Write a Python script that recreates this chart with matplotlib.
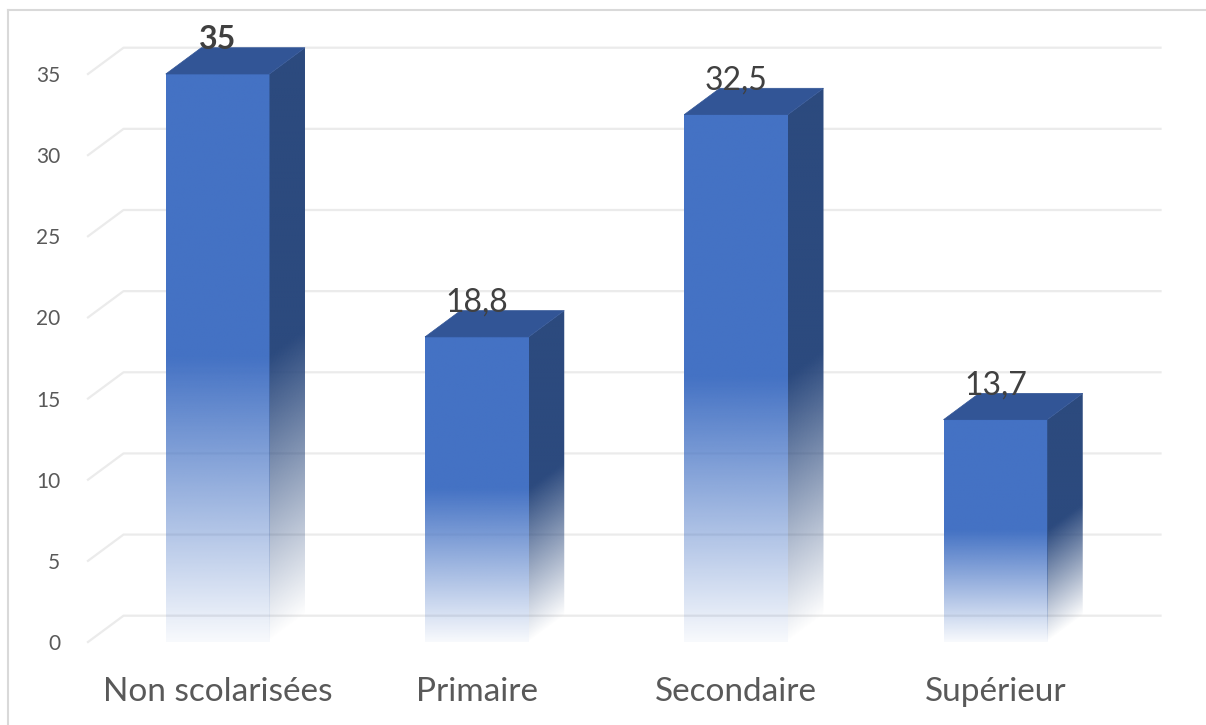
import numpy as np
import matplotlib.pyplot as plt
from matplotlib.patches import Polygon
from matplotlib.lines import Line2D

plt.rcParams['font.family'] = ['Lato', 'DejaVu Sans']

categories = ['Non scolarisées', 'Primaire', 'Secondaire', 'Supérieur']
values = [35, 18.8, 32.5, 13.7]
labels = ['35', '18,8', '32,5', '13,7']
bold_label = [True, False, False, False]
yticks = [0, 5, 10, 15, 20, 25, 30, 35]

FRONT = np.array([0x44, 0x72, 0xC4]) / 255
SIDE = np.array([0x2C, 0x4A, 0x7E]) / 255
TOP = '#325596'
GRID = '#ebebeb'
TXT = '#595959'

W = 0.40      # bar width
DX = 0.137    # depth offset (x units)
DY = 1.62     # depth offset (y units)
YMAX = 38     # headroom for the back edges above 35

fig = plt.figure(figsize=(12.06, 7.25), dpi=100)
ax = fig.add_axes([88 / 1206, 83 / 725, 1037 / 1206, 568 / 35 * YMAX / 725])
ax.set_xlim(-0.5, 3.5)
ax.set_ylim(0, YMAX)
for s in ax.spines.values():
    s.set_visible(False)


def fade(t, floor):
    # solid in upper half, linear fade toward the base
    return np.clip(np.where(t >= 0.5, 1.0, floor + (1 - floor) * t / 0.5), 0, 1)


# perspective gridlines
x0, x1 = -0.5, 3.5
for v in yticks:
    ax.add_line(Line2D([x0, x0 + DX, x1 + DX], [v, v + DY, v + DY],
                       color=GRID, lw=1.6, clip_on=False, zorder=1))

for i, (v, lab, b) in enumerate(zip(values, labels, bold_label)):
    xl, xr = i - W / 2, i + W / 2

    # front face with vertical gradient
    n = 300
    t = np.linspace(1, 0, n)[:, None]
    img = np.zeros((n, 1, 4))
    img[..., :3] = FRONT
    img[..., 3] = fade(t, 0.04)
    ax.imshow(img, extent=[xl, xr, 0, v], aspect='auto',
              interpolation='bilinear', zorder=3)

    # side face, gradient follows the skew
    side = Polygon([(xr, 0), (xr + DX, DY), (xr + DX, v + DY), (xr, v)],
                   closed=True, facecolor='none', edgecolor='none')
    ax.add_patch(side)
    gx = np.linspace(xr, xr + DX, 60)
    gy = np.linspace(v + DY, 0, 400)
    XX, YY = np.meshgrid(gx, gy)
    ts = (YY - (XX - xr) / DX * DY) / v
    simg = np.zeros(XX.shape + (4,))
    simg[..., :3] = SIDE
    simg[..., 3] = fade(ts, 0.0)
    im = ax.imshow(simg, extent=[xr, xr + DX, 0, v + DY], aspect='auto',
                   interpolation='bilinear', zorder=3)
    im.set_clip_path(side)

    # top face
    ax.add_patch(Polygon([(xl, v), (xr, v), (xr + DX, v + DY), (xl + DX, v + DY)],
                         closed=True, facecolor=TOP, edgecolor=TOP, lw=0.5,
                         zorder=4))

    ax.text(i, v + 2.1, lab, ha='center', va='center', fontsize=23,
            color='#404040', fontweight='bold' if b else 'normal',
            zorder=5, clip_on=False)

ax.set_xlim(-0.5, 3.5)
ax.set_ylim(0, YMAX)
ax.set_yticks(yticks)
ax.set_yticklabels([str(v) for v in yticks], fontsize=15, color=TXT)
ax.set_xticks(range(len(categories)))
ax.set_xticklabels(categories, fontsize=24, color=TXT)
ax.tick_params(axis='y', length=0, pad=20)
ax.tick_params(axis='x', length=0, pad=25)

# chart area border
fig.add_artist(Line2D([7.5 / 1206, 7.5 / 1206], [0, 715 / 725],
                      transform=fig.transFigure, color='#d9d9d9', lw=1.5))
fig.add_artist(Line2D([7.5 / 1206, 1], [715 / 725, 715 / 725],
                      transform=fig.transFigure, color='#d9d9d9', lw=1.5))

fig.savefig('out.png', dpi=100)
